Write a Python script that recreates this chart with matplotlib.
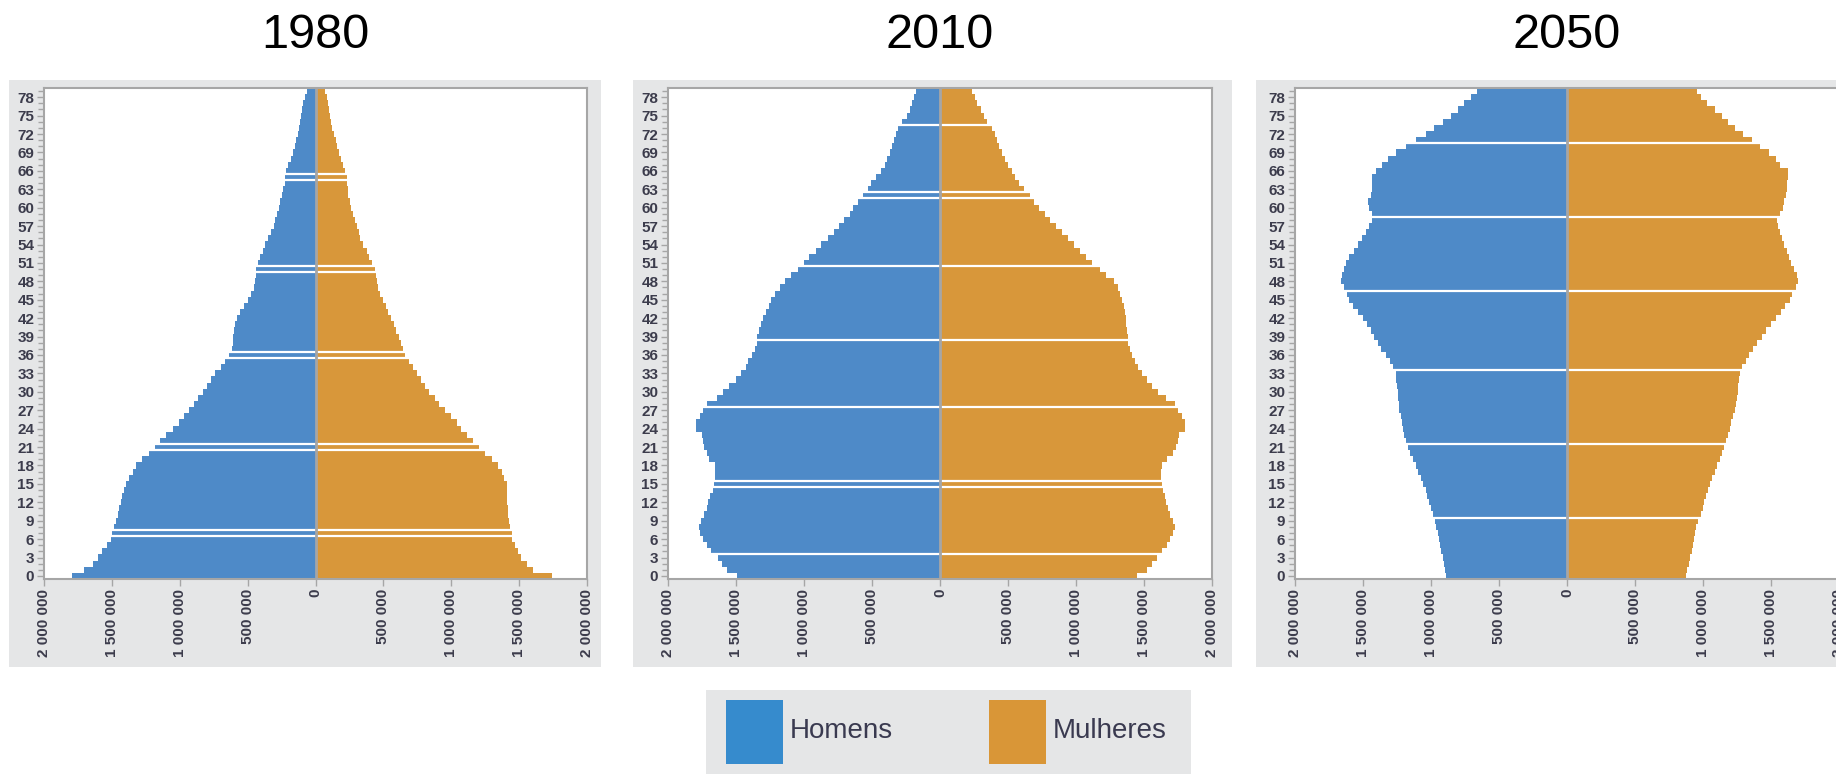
import numpy as np
import matplotlib.pyplot as plt
from matplotlib.patches import Rectangle

plt.rcParams['font.family'] = ['Liberation Sans', 'DejaVu Sans']

# idades simples 0..79
ages = np.arange(0, 80)
years = ["1980", "2010", "2050"]

# populacao por idade (milhares)
homens_1980 = [1793, 1704, 1642, 1602, 1570, 1535, 1508, 1497, 1481, 1468,
               1454, 1449, 1436, 1422, 1409, 1395, 1374, 1347, 1320, 1275,
               1229, 1186, 1143, 1100, 1052, 1006, 966, 934, 894, 864,
               832, 800, 773, 741, 698, 668, 639, 617, 609, 609,
               601, 591, 577, 556, 524, 497, 475, 456, 446, 435,
               435, 424, 408, 389, 370, 349, 328, 309, 295, 282,
               268, 260, 247, 236, 225, 225, 215, 199, 183, 169,
               153, 140, 129, 121, 113, 107, 99, 89, 80, 62]
mulheres_1980 = [1739, 1605, 1557, 1516, 1490, 1471, 1444, 1444, 1436, 1422,
                 1417, 1417, 1414, 1412, 1412, 1409, 1390, 1374, 1347, 1302,
                 1248, 1208, 1159, 1114, 1074, 1041, 998, 953, 912, 880,
                 837, 805, 778, 746, 719, 690, 658, 644, 631, 612,
                 596, 577, 558, 537, 516, 497, 478, 462, 451, 443,
                 435, 416, 397, 376, 349, 330, 317, 303, 290, 277,
                 263, 252, 242, 236, 231, 231, 220, 201, 188, 175,
                 161, 148, 134, 124, 115, 107, 102, 94, 86, 67]

homens_2010 = [1491, 1563, 1603, 1635, 1684, 1716, 1743, 1764, 1769, 1759,
               1737, 1716, 1705, 1689, 1670, 1662, 1651, 1651, 1651, 1697,
               1716, 1737, 1743, 1751, 1796, 1796, 1764, 1743, 1710, 1643,
               1598, 1555, 1501, 1464, 1429, 1410, 1383, 1362, 1349, 1343,
               1330, 1314, 1300, 1282, 1260, 1241, 1215, 1180, 1142, 1094,
               1046, 1003, 960, 914, 874, 826, 780, 740, 705, 665,
               638, 603, 563, 531, 504, 472, 437, 408, 389, 370,
               354, 338, 322, 311, 279, 244, 223, 204, 193, 177]
mulheres_2010 = [1448, 1520, 1560, 1592, 1635, 1668, 1694, 1716, 1727, 1716,
                 1694, 1673, 1662, 1654, 1641, 1635, 1627, 1627, 1635, 1668,
                 1716, 1735, 1748, 1761, 1802, 1802, 1780, 1753, 1727, 1662,
                 1601, 1560, 1520, 1485, 1453, 1432, 1413, 1399, 1386, 1381,
                 1373, 1368, 1365, 1360, 1352, 1341, 1325, 1306, 1280, 1218,
                 1180, 1119, 1073, 1030, 984, 939, 896, 850, 810, 770,
                 730, 690, 663, 617, 582, 555, 529, 502, 475, 456,
                 435, 421, 402, 381, 349, 322, 300, 273, 260, 233]

homens_2050 = [889, 899, 907, 915, 926, 934, 942, 952, 960, 974,
               987, 1000, 1013, 1026, 1040, 1058, 1074, 1093, 1111, 1132,
               1153, 1172, 1185, 1198, 1206, 1212, 1222, 1233, 1238, 1243,
               1246, 1251, 1257, 1259, 1278, 1304, 1331, 1365, 1392, 1418,
               1444, 1471, 1503, 1534, 1577, 1603, 1616, 1640, 1661, 1656,
               1640, 1622, 1603, 1569, 1534, 1508, 1481, 1455, 1437, 1437,
               1455, 1463, 1444, 1437, 1437, 1434, 1402, 1362, 1317, 1257,
               1185, 1111, 1037, 979, 915, 854, 799, 754, 709, 664]
mulheres_2050 = [873, 886, 897, 905, 918, 926, 937, 944, 952, 963,
                 984, 997, 1011, 1024, 1037, 1050, 1069, 1085, 1103, 1122,
                 1138, 1156, 1169, 1183, 1196, 1209, 1222, 1235, 1243, 1249,
                 1254, 1259, 1265, 1275, 1288, 1315, 1341, 1368, 1394, 1434,
                 1466, 1500, 1534, 1571, 1606, 1640, 1653, 1685, 1698, 1693,
                 1667, 1646, 1632, 1614, 1593, 1579, 1566, 1553, 1545, 1566,
                 1587, 1598, 1608, 1614, 1619, 1627, 1624, 1566, 1534, 1487,
                 1421, 1360, 1296, 1235, 1183, 1138, 1085, 1032, 984, 958]

# linhas brancas entre barras que aparecem na figura original
gaps_1980 = [6.5, 7.5, 20.5, 21.5, 35.5, 36.5, 49.5, 50.5, 64.5, 65.5]
gaps_2010 = [3.5, 14.5, 15.5, 27.5, 38.5, 50.5, 61.5, 62.5, 73.5]
gaps_2050 = [9.5, 21.5, 33.5, 46.5, 58.5, 70.5]

x_ticks = np.arange(-2000000, 2000001, 500000)
legend_labels = ["Homens", "Mulheres"]

blue = "#4e8ac8"
orange = "#d8973a"
panel_gray = "#e5e6e7"
frame_gray = "#a6a6a6"
label_color = "#3c3c4c"

W, H = 1836, 774
fig = plt.figure(figsize=(W / 100, H / 100), dpi=100)


def fig_rect(x0, y0, x1, y1):
    # pixel box (top-left origin) -> figure fraction
    return [x0 / W, 1 - y1 / H, (x1 - x0) / W, (y1 - y0) / H]


def fmt(v):
    return f"{abs(int(v)):,}".replace(",", " ")


panel_px = [(9, 80, 601, 667), (633, 80, 1232, 667), (1256, 80, 1840, 667)]
axes_px = [(44, 88, 587, 579), (668, 88, 1212, 579), (1295, 88, 1839, 579)]
men = [homens_1980, homens_2010, homens_2050]
women = [mulheres_1980, mulheres_2010, mulheres_2050]
gaps = [gaps_1980, gaps_2010, gaps_2050]

for i in range(3):
    x0, y0, w, h = fig_rect(*panel_px[i])
    fig.add_artist(Rectangle((x0, y0), w, h, transform=fig.transFigure,
                             facecolor=panel_gray, edgecolor="none", zorder=-1))

    ax = fig.add_axes(fig_rect(*axes_px[i]))
    ax.barh(ages, -np.array(men[i]) * 1000, height=1.0, color=blue, linewidth=0)
    ax.barh(ages, np.array(women[i]) * 1000, height=1.0, color=orange, linewidth=0)
    for g in gaps[i]:
        ax.axhline(g, color="white", lw=1.6)
    ax.axvline(0, color=frame_gray, lw=2, zorder=2.1)

    ax.set_xlim(-2000000, 2000000)
    ax.set_ylim(-0.5, 79.5)
    ax.set_xticks(x_ticks)
    ax.set_xticklabels([fmt(v) for v in x_ticks], rotation=90)
    ax.set_yticks(np.arange(0, 79, 3))
    ax.set_yticks(ages, minor=True)
    for lab in ax.get_xticklabels() + ax.get_yticklabels():
        lab.set_fontweight("bold")
        lab.set_color(label_color)
    ax.tick_params(axis="both", which="major", labelsize=11, color=frame_gray,
                   length=5, width=1, pad=2)
    ax.tick_params(axis="y", which="minor", color=frame_gray, length=4, width=1)
    for s in ax.spines.values():
        s.set_color(frame_gray)
        s.set_linewidth(1.5)

    cx = (axes_px[i][0] + axes_px[i][2]) / 2
    fig.text(cx / W, 1 - 35 / H, years[i], ha="center", va="center", fontsize=35)

# legenda
x0, y0, w, h = fig_rect(706, 690, 1191, 774)
fig.add_artist(Rectangle((x0, y0), w, h, transform=fig.transFigure,
                         facecolor=panel_gray, edgecolor="none", zorder=-1))
for sx, col, lab in [(726, "#368bcd", legend_labels[0]), (989, "#d99637", legend_labels[1])]:
    x0, y0, w, h = fig_rect(sx, 700, sx + 57, 764)
    fig.add_artist(Rectangle((x0, y0), w, h, transform=fig.transFigure,
                             facecolor=col, edgecolor="none"))
    fig.text((sx + 64) / W, 1 - 731 / H, lab, ha="left", va="center",
             fontsize=20, color="#3a3a50")

fig.savefig("out.png", dpi=100)
